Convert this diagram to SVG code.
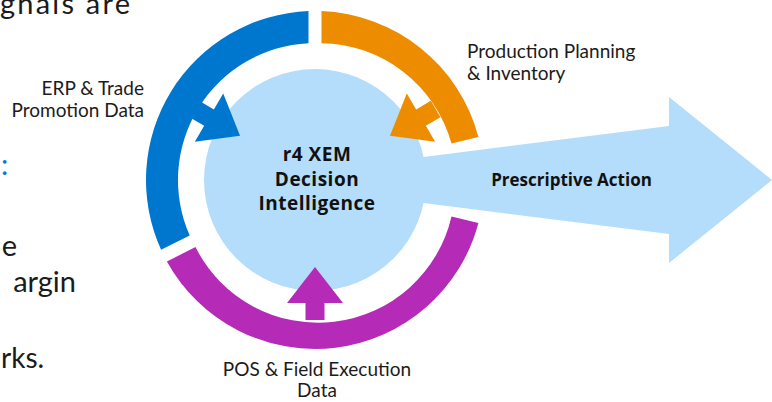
<svg xmlns="http://www.w3.org/2000/svg" width="772" height="402" viewBox="0 0 772 402">
<style>
.lbl{font-family:Lato,"Open Sans","Liberation Sans",sans-serif;font-size:19px;fill:#1b1b1b}
.bg{font-family:Lato,"Open Sans","Liberation Sans",sans-serif;font-size:29px;fill:#1b1b1b}
.ctr{font-family:"Open Sans","Liberation Sans",sans-serif;font-weight:700;font-size:19px;letter-spacing:0.5px;fill:#111;text-anchor:middle}
.act{font-family:"Open Sans","Liberation Sans",sans-serif;font-weight:700;font-size:17px;fill:#111;text-anchor:middle}
.blue{fill:#0077CE}
.orange{fill:#EE8C00}
.purple{fill:#B52BB8}
.light{fill:#B3DDFB}
</style>
<defs>
<polygon id="inarrow" points="315,267 343,303 324.5,303 324.5,320 305.5,320 305.5,303 287,303"/>
</defs>
<g id="background-text">
<text class="bg" x="0" y="14" textLength="130" lengthAdjust="spacing">gnals are</text>
<text class="bg" x="1" y="175" style="fill:#0078D4">:</text>
<text class="bg" x="17" y="256" text-anchor="end">e</text>
<text class="bg" x="76" y="292" text-anchor="end">argin</text>
<text class="bg" x="1" y="368" style="font-size:28px">rks.</text>
</g>
<g id="decision-core">
<polygon class="light" points="400,160 669,126 669,97 772,180 669,263 669,234 400,200"/>
<circle class="light" cx="315" cy="180" r="111"/>
<text class="ctr" x="317" y="161">r4 XEM</text>
<text class="ctr" x="317" y="185.5">Decision</text>
<text class="ctr" x="317" y="210">Intelligence</text>
<text class="act" x="571.5" y="186">Prescriptive Action</text>
</g>
<g id="erp">
<path class="blue" d="M161.1 249.8 A169 169 0 0 1 308.5 11.1 L308.5 43.2 A137 137 0 0 0 189.7 235.5 Z"/>
<use href="#inarrow" class="blue" transform="rotate(120.5 315 180)"/>
<text class="lbl" x="144" y="95" text-anchor="end">ERP &amp; Trade</text>
<text class="lbl" x="144" y="117" text-anchor="end">Promotion Data</text>
</g>
<g id="production">
<path class="orange" d="M321.5 11.1 A169 169 0 0 1 478.4 137 L451.5 143.5 A137 137 0 0 0 321.5 43.2 Z"/>
<use href="#inarrow" class="orange" transform="rotate(-120.5 315 180)"/>
<text class="lbl" x="467" y="58">Production Planning</text>
<text class="lbl" x="467" y="80">&amp; Inventory</text>
</g>
<g id="pos">
<path class="purple" d="M478.4 223 A169 169 0 0 1 166.9 261.4 L195.5 247.1 A137 137 0 0 0 451.5 216.5 Z"/>
<use href="#inarrow" class="purple"/>
<text class="lbl" x="317" y="376" text-anchor="middle">POS &amp; Field Execution</text>
<text class="lbl" x="317" y="397" text-anchor="middle">Data</text>
</g>
<g id="connectors"></g>
</svg>
